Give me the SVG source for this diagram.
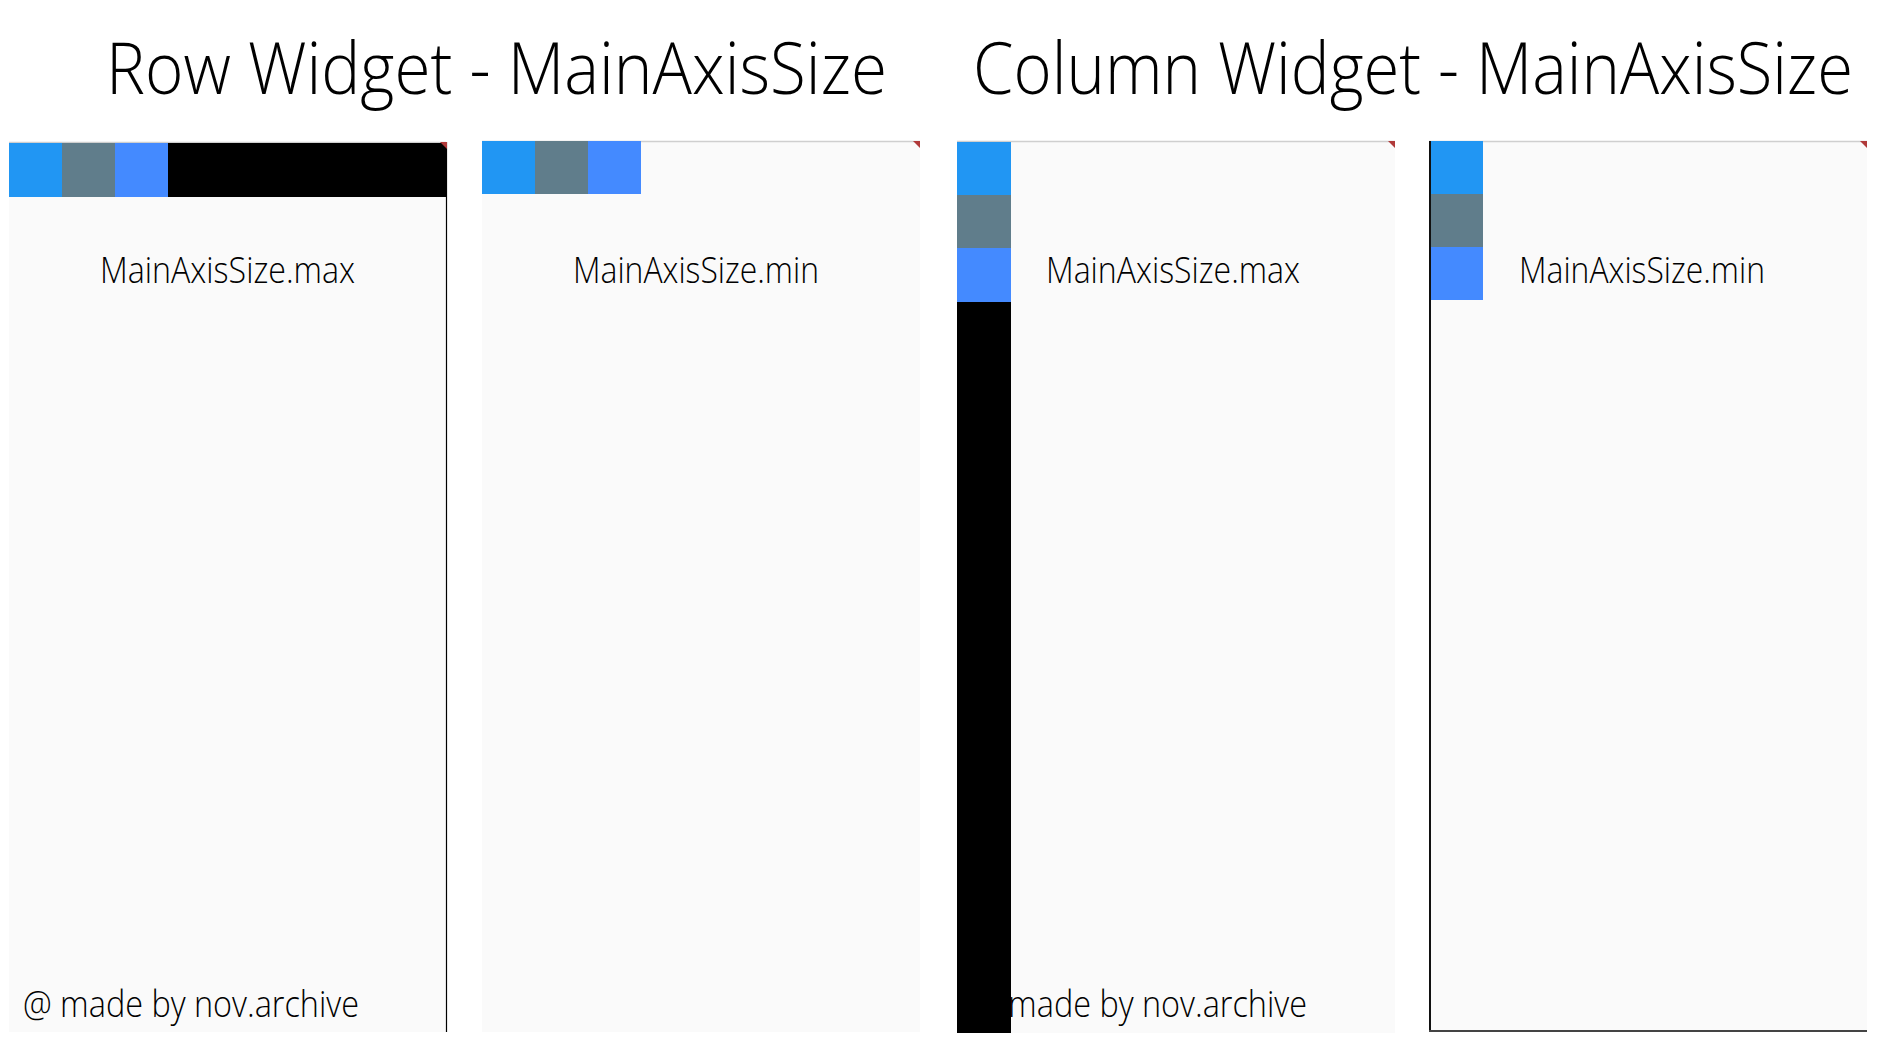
<svg xmlns="http://www.w3.org/2000/svg" width="1890" height="1049" viewBox="0 0 1890 1049">
<style>
.title{font-family:"Open Sans","Liberation Sans",sans-serif;font-weight:300;font-size:71px;fill:#000}
.lbl{font-family:"Open Sans","Liberation Sans",sans-serif;font-weight:300;font-size:36px;fill:#000}
.panel{fill:#FAFAFA}
.c1{fill:#2196F3}
.c2{fill:#607D8B}
.c3{fill:#448AFF}
.blk{fill:#000}
.topline{stroke:#CFCFCF;stroke-width:1.5}
.corner{fill:#B03A3A}
</style>
<rect width="1890" height="1049" fill="#FFFFFF"/>
<g id="titles">
<text class="title" x="106" y="94" textLength="781" lengthAdjust="spacingAndGlyphs">Row Widget - MainAxisSize</text>
<text class="title" x="973" y="94" textLength="880" lengthAdjust="spacingAndGlyphs">Column Widget - MainAxisSize</text>
</g>
<g id="panel-row-max">
<rect class="panel" x="9" y="142" width="437" height="890"/>
<line class="topline" x1="9" y1="142.5" x2="446" y2="142.5"/>
<rect class="c1" x="9" y="143" width="53" height="54"/>
<rect class="c2" x="62" y="143" width="53" height="54"/>
<rect class="c3" x="115" y="143" width="53" height="54"/>
<rect class="blk" x="168" y="143" width="278" height="54"/>
<line x1="446.5" y1="142" x2="446.5" y2="1032" stroke="#000" stroke-width="1.2"/>
<polygon class="corner" points="440,142 447,142 447,149"/>
<text class="lbl" x="100" y="283" textLength="255" lengthAdjust="spacingAndGlyphs">MainAxisSize.max</text>
<text class="lbl" x="23" y="1017" textLength="336" lengthAdjust="spacingAndGlyphs">@ made by nov.archive</text>
</g>
<g id="panel-row-min">
<rect class="panel" x="482" y="141" width="438" height="891"/>
<line class="topline" x1="482" y1="141.5" x2="920" y2="141.5"/>
<rect class="c1" x="482" y="141" width="53" height="53"/>
<rect class="c2" x="535" y="141" width="53" height="53"/>
<rect class="c3" x="588" y="141" width="53" height="53"/>
<polygon class="corner" points="913,141 920,141 920,148"/>
<text class="lbl" x="573" y="283" textLength="246" lengthAdjust="spacingAndGlyphs">MainAxisSize.min</text>
</g>
<g id="panel-column-max">
<rect class="panel" x="957" y="141" width="438" height="892"/>
<line class="topline" x1="957" y1="141.5" x2="1395" y2="141.5"/>
<text class="lbl" x="971" y="1017" textLength="336" lengthAdjust="spacingAndGlyphs">@ made by nov.archive</text>
<rect class="c1" x="957" y="142" width="54" height="53"/>
<rect class="c2" x="957" y="195" width="54" height="53"/>
<rect class="c3" x="957" y="248" width="54" height="54"/>
<rect class="blk" x="957" y="302" width="54" height="731"/>
<polygon class="corner" points="1388,141 1395,141 1395,148"/>
<text class="lbl" x="1046" y="283" textLength="254" lengthAdjust="spacingAndGlyphs">MainAxisSize.max</text>
</g>
<g id="panel-column-min">
<rect class="panel" x="1429" y="141" width="438" height="890"/>
<line class="topline" x1="1429" y1="141.5" x2="1867" y2="141.5"/>
<rect class="c1" x="1430" y="141" width="53" height="53"/>
<rect class="c2" x="1430" y="194" width="53" height="53"/>
<rect class="c3" x="1430" y="247" width="53" height="53"/>
<line x1="1430" y1="141" x2="1430" y2="1032" stroke="#111" stroke-width="2"/>
<line x1="1429" y1="1031" x2="1867" y2="1031" stroke="#444" stroke-width="2"/>
<polygon class="corner" points="1860,141 1867,141 1867,148"/>
<text class="lbl" x="1519" y="283" textLength="246" lengthAdjust="spacingAndGlyphs">MainAxisSize.min</text>
</g>
<g id="connectors"></g>
</svg>
